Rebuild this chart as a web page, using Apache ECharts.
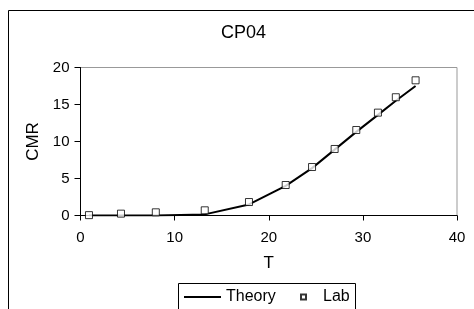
<!DOCTYPE html>
<html>
<head>
<meta charset="utf-8">
<script src="https://cdn.jsdelivr.net/npm/echarts@6/dist/echarts.min.js"></script>
<style>
  html, body { margin: 0; padding: 0; background: #fff; }
  #chart { width: 474px; height: 309px; }
</style>
</head>
<body>
<div id="chart"></div>
<script>
// CP04: theory curve vs lab measurements
const tValues = [0.9, 4.3, 8.0, 13.2, 17.9, 21.8, 24.6, 27.0, 29.3, 31.6, 33.5, 35.6];
const theoryCMR = [0, 0, 0, 0.15, 1.5, 4.0, 6.4, 8.9, 11.3, 13.6, 15.5, 17.5];
const labCMR = [0.05, 0.25, 0.43, 0.7, 1.82, 4.12, 6.55, 8.99, 11.55, 13.9, 15.98, 18.27];
const xTicks = [0, 10, 20, 30, 40];
const yTicks = [0, 5, 10, 15, 20];

const font = 'Liberation Sans, Arial, sans-serif';

let chart = echarts.init(document.getElementById('chart'), null, { renderer: 'canvas' });

chart.setOption({
    animation: false,
    backgroundColor: '#fff',
    textStyle: { fontFamily: font, color: '#000' },
    title: {
        text: 'CP04',
        left: 221,
        top: 24,
        padding: 0,
        textStyle: { fontFamily: font, fontSize: 18, fontWeight: 'normal', color: '#000' }
    },
    graphic: [
        {
            type: 'rect',
            shape: { x: 8.5, y: 10.5, width: 500, height: 400 },
            style: { fill: null, stroke: '#000', lineWidth: 1 },
            silent: true,
            z: -1
        },
        {
            type: 'rect',
            shape: { x: 178.5, y: 283.5, width: 177, height: 40 },
            style: { fill: '#fff', stroke: '#000', lineWidth: 1 },
            silent: true,
            z: 0
        }
    ],
    legend: [
        {
            data: [{ name: 'Theory', icon: 'rect' }],
            left: 184,
            top: 289,
            padding: 0,
            itemWidth: 37,
            itemHeight: 2,
            textStyle: { fontFamily: font, fontSize: 16, color: '#000' },
            z: 5
        },
        {
            data: ['Lab'],
            left: 300,
            top: 289,
            padding: 0,
            itemWidth: 5,
            itemHeight: 5,
            textStyle: { fontFamily: font, fontSize: 16, color: '#000', padding: [0, 0, 0, 12] },
            z: 5
        }
    ],
    grid: {
        left: 80.5,
        right: 17,
        top: 67.5,
        bottom: 93.5,
        show: true,
        borderColor: '#999',
        borderWidth: 1,
        backgroundColor: 'transparent'
    },
    xAxis: {
        type: 'value',
        min: xTicks[0],
        max: xTicks[xTicks.length - 1],
        interval: 10,
        name: 'T',
        nameLocation: 'middle',
        nameGap: 39,
        nameTextStyle: { fontFamily: font, fontSize: 17, color: '#000' },
        axisLine: { lineStyle: { color: '#000', width: 1 } },
        axisTick: { show: true, inside: false, length: 5, lineStyle: { color: '#000' } },
        axisLabel: { fontFamily: font, fontSize: 15, color: '#000', margin: 15 },
        splitLine: { show: false }
    },
    yAxis: {
        type: 'value',
        min: yTicks[0],
        max: yTicks[yTicks.length - 1],
        interval: 5,
        name: 'CMR',
        nameLocation: 'middle',
        nameGap: 38,
        nameTextStyle: { fontFamily: font, fontSize: 17, color: '#000' },
        axisLine: { show: true, lineStyle: { color: '#000', width: 1 } },
        axisTick: { show: true, inside: false, length: 6, lineStyle: { color: '#000' } },
        axisLabel: { fontFamily: font, fontSize: 15, color: '#000', margin: 11 },
        splitLine: { show: false }
    },
    series: [
        {
            name: 'Theory',
            type: 'line',
            data: tValues.map((t, i) => [t, theoryCMR[i]]),
            symbol: 'none',
            smooth: false,
            lineStyle: { color: '#000', width: 2 },
            itemStyle: { color: '#000' },
            z: 3
        },
        {
            name: 'Lab',
            type: 'scatter',
            data: tValues.map((t, i) => [t, labCMR[i]]),
            symbol: 'rect',
            symbolSize: 7,
            itemStyle: { color: '#fff', borderColor: '#000', borderWidth: 1 },
            z: 4
        }
    ]
});
</script>
</body>
</html>
